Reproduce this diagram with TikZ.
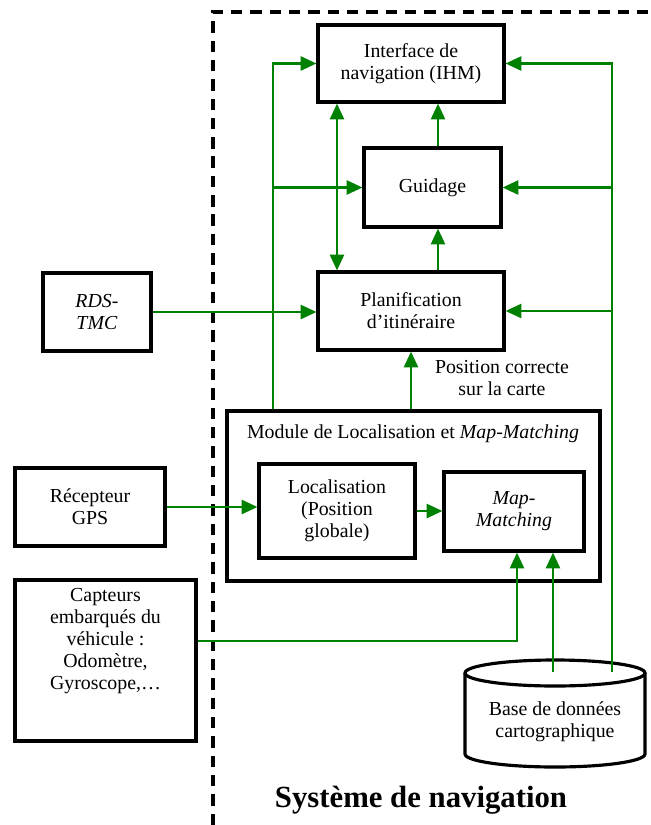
\documentclass[tikz,border=0pt]{standalone}
\usepackage{fontspec}
\setmainfont{Liberation Serif}
\usetikzlibrary{arrows.meta}
\definecolor{flowgreen}{RGB}{0,128,0}
\begin{document}
\begin{tikzpicture}[x=0.02cm,y=-0.02cm,
  box/.style={draw,line width=1.8pt,align=center,font=\fontsize{11.3}{12.6}\selectfont},
  lbl/.style={align=center,font=\fontsize{11.3}{12.6}\selectfont},
  flow/.style={draw=flowgreen,line width=1.4pt,-{Triangle[length=9pt,width=8pt]}},
  flowboth/.style={flow,{Triangle[length=9pt,width=8pt]}-{Triangle[length=9pt,width=8pt]}},
  frame/.style={line width=1.8pt,dash pattern=on 6.5pt off 4.5pt}]
\useasboundingbox (0,0) rectangle (650,825);
% limite du systeme
\draw[frame] (213,825) -- (213,12) -- (650,12);
\node[font=\fontsize{17.5}{20}\selectfont\bfseries] (title) at (421,800) {Système de navigation};
% blocs
\node[box,minimum width=3.72cm,minimum height=1.54cm] (ihm) at (411,63.5) {Interface de\\navigation (IHM)};
\node[box,minimum width=2.74cm,minimum height=1.58cm] (guid) at (432.5,187.5) {Guidage};
\node[box,minimum width=3.72cm,minimum height=1.56cm] (plan) at (411,311) {Planification\\d’itinéraire};
\node[box,minimum width=2.16cm,minimum height=1.56cm] (rds) at (97,312) {\textit{RDS-}\\\textit{TMC}};
\node[box,minimum width=7.46cm,minimum height=3.40cm] (module) at (413.5,496) {};
\node[lbl] (modlbl) at (413,434) {Module de Localisation et \textit{Map-Matching}};
\node[box,minimum width=3.00cm,minimum height=1.56cm] (gps) at (90,507) {Récepteur\\GPS};
\node[box,minimum width=3.12cm,minimum height=1.88cm] (loc) at (337,511) {Localisation\\(Position\\globale)};
\node[box,minimum width=2.80cm,minimum height=1.58cm] (mm) at (514,511.5) {\textit{Map-}\\\textit{Matching}};
\node[box,minimum width=3.62cm,minimum height=3.22cm] (capt) at (105.5,660.5) {Capteurs\\embarqués du\\véhicule :\\Odomètre,\\Gyroscope,…\\[12pt]};
\node[lbl] (poslbl) at (502,378) {Position correcte\\sur la carte};
% base de donnees
\draw[line width=1.8pt] (555,673) ellipse [x radius=90,y radius=13];
\draw[line width=1.8pt] (465,673) -- (465,754) arc[start angle=180,end angle=0,x radius=90,y radius=13] -- (645,673);
\node[lbl] (base) at (555,722) {Base de données\\cartographique};
\coordinate (dbin) at (553,672);
\coordinate (dbout) at (612,672);
% liaisons
\coordinate (lbus) at (273,0);
\coordinate (dbl) at (337,0);
\coordinate (mid) at (438,0);
\coordinate (mma) at (517,0);
\draw[flow] (lbus |- module.north) |- (ihm.west);
\draw[flow] (lbus |- guid.west) -- (guid.west);
\draw[flowboth] (dbl |- ihm.south) -- (dbl |- plan.north);
\draw[flow] (mid |- guid.north) -- (mid |- ihm.south);
\draw[flow] (mid |- plan.north) -- (mid |- guid.south);
\draw[flow] (dbout) |- (ihm.east);
\draw[flow] (dbout |- guid.east) -- (guid.east);
\draw[flow] (dbout |- plan.east) -- (plan.east);
\draw[flow] (rds.east) -- (rds.east -| plan.west);
\draw[flow] (plan.south |- module.north) -- (plan.south);
\draw[flow] (gps.east) -- (gps.east -| loc.west);
\draw[flow] (loc.east) -- (loc.east -| mm.west);
\draw[flow] ([yshift=11pt]capt.east) -| (mma |- mm.south);
\draw[flow] (dbin) -- (dbin |- mm.south);
\end{tikzpicture}
\end{document}
